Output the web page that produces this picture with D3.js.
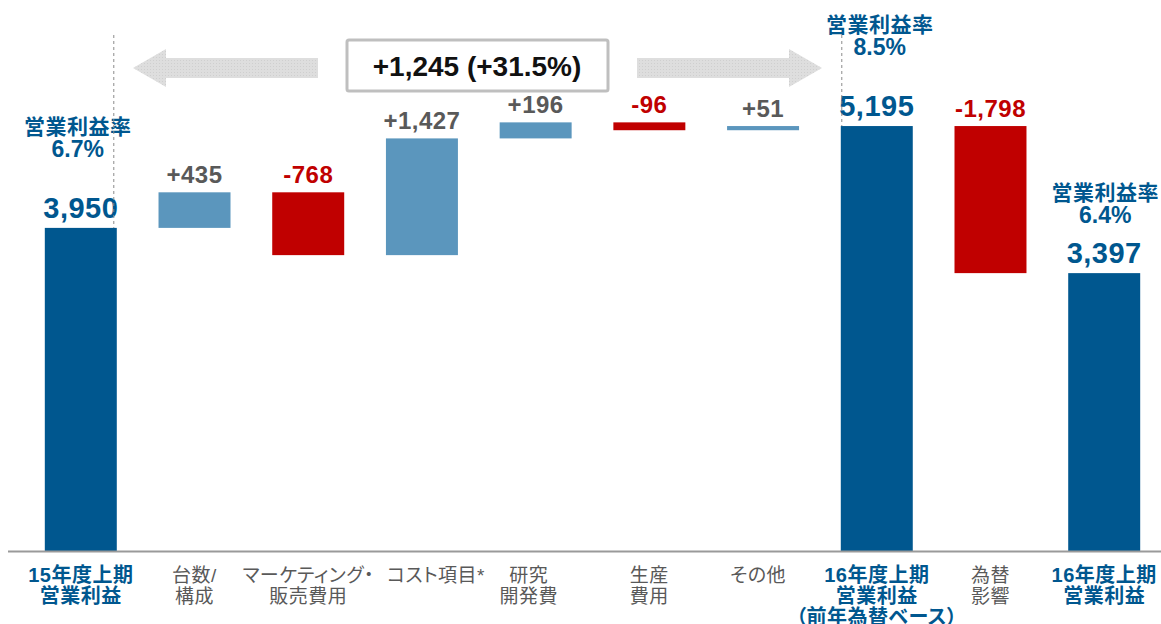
<!DOCTYPE html>
<html>
<head>
<meta charset="utf-8">
<script src="https://cdn.jsdelivr.net/npm/d3@7"></script>
<style>
  body { margin: 0; background: #fff; }
  svg text { font-family: "Liberation Sans", Arial, "Noto Sans CJK JP", sans-serif; }
  .cat { font-feature-settings: "palt"; }
</style>
</head>
<body>
<svg></svg>
<script>
const w = 1161
const h = 624

// data
const categories = [
  ['15年度上期', '営業利益'],
  ['台数/', '構成'],
  ['マーケティング・', '販売費用'],
  ['コスト項目*'],
  ['研究', '開発費'],
  ['生産', '費用'],
  ['その他'],
  ['16年度上期', '営業利益', '（前年為替ベース）'],
  ['為替', '影響'],
  ['16年度上期', '営業利益']
]
const values = [3950, 435, -768, 1427, 196, -96, 51, 5195, -1798, 3397]
const kinds = ['total', 'delta', 'delta', 'delta', 'delta', 'delta', 'delta', 'total', 'delta', 'total']
const valueLabels = ['3,950', '+435', '-768', '+1,427', '+196', '-96', '+51', '5,195', '-1,798', '3,397']
const marginIdx = [0, 7, 9]
const marginRates = ['6.7%', '8.5%', '6.4%']
const marginTitle = '営業利益率'
const totalChange = '+1,245 (+31.5%)'

const darkBlue = '#00578f'
const lightBlue = '#5b96bd'
const red = '#c00000'
const grey = '#595959'

const svg = d3.select('svg').attr('width', w).attr('height', h)

// waterfall start/end
let run = 0
const data = values.map((v, i) => {
  let y0, y1
  if (kinds[i] === 'total') { y0 = 0; y1 = v; run = v }
  else { y0 = run; y1 = run + v; run = y1 }
  return { i, v, y0, y1, kind: kinds[i], label: valueLabels[i], cat: categories[i] }
})

const baseline = 551
const xScale = d3.scaleBand()
  .domain(d3.range(categories.length))
  .range([24, 1161])
  .paddingInner(0.367)
  .paddingOuter(0.183)

const yScale = d3.scaleLinear()
  .domain([0, 6000])
  .range([baseline, baseline - 6000 * 0.0818])

const color = d => d.kind === 'total' ? darkBlue : (d.v >= 0 ? lightBlue : red)

// dotted arrow pattern
const defs = svg.append('defs')
const pat = defs.append('pattern')
  .attr('id', 'dots').attr('width', 3).attr('height', 3)
  .attr('patternUnits', 'userSpaceOnUse')
pat.append('rect').attr('width', 3).attr('height', 3).attr('fill', '#dedede')
pat.append('rect').attr('width', 1).attr('height', 1).attr('fill', '#cfcfcf')

// bars
svg.selectAll('rect.bar').data(data).enter().append('rect')
  .attr('class', 'bar')
  .attr('x', d => xScale(d.i))
  .attr('width', xScale.bandwidth())
  .attr('y', d => yScale(Math.max(d.y0, d.y1)))
  .attr('height', d => Math.abs(yScale(d.y0) - yScale(d.y1)))
  .attr('fill', color)

// baseline axis
const xAxis = d3.axisBottom(xScale).tickSize(0).tickFormat('')
const xAxisG = svg.append('g')
  .attr('transform', `translate(0, ${baseline})`)
  .call(xAxis)
xAxisG.select('.domain')
  .attr('d', `M8,0.5H${w}`)
  .attr('stroke', '#9a9a9a')
  .attr('stroke-width', 2)

// category labels (small nudges to match the original placement)
const labelDx = [0, 0, 0, 14, -7, 0, -5, 0, 0, 0]
xAxisG.selectAll('.tick').each(function (i) {
  const d = data[i]
  const t = d3.select(this).append('text')
    .attr('class', 'cat')
    .attr('text-anchor', 'middle')
    .attr('font-size', d.kind === 'total' ? 20 : 19)
    .attr('letter-spacing', 0.5)
    .attr('font-weight', d.kind === 'total' ? 'bold' : 'normal')
    .attr('fill', d.kind === 'total' ? darkBlue : grey)
  d.cat.forEach((line, k) => {
    t.append('tspan').attr('x', labelDx[i]).attr('y', 31 + k * 21).text(line)
  })
})

// value labels
svg.selectAll('text.val').data(data).enter().append('text')
  .attr('class', 'val')
  .attr('x', d => xScale(d.i) + xScale.bandwidth() / 2)
  .attr('y', d => yScale(Math.max(d.y0, d.y1)) - (d.kind === 'total' ? 10 : 9))
  .attr('text-anchor', 'middle')
  .attr('font-weight', 'bold')
  .attr('font-size', d => d.kind === 'total' ? 29 : 24)
  .attr('letter-spacing', 0.5)
  .attr('fill', d => d.kind === 'total' ? darkBlue : (d.v >= 0 ? grey : red))
  .text(d => d.label)

// margin labels above totals
const marginDx = [-3, 3, 1]
const marginDy = [0, 0, 21]
marginIdx.forEach((idx, k) => {
  const d = data[idx]
  const cx = xScale(idx) + xScale.bandwidth() / 2 + marginDx[k]
  const top = yScale(d.y1) + marginDy[k]
  const g = svg.append('g')
  g.append('text')
    .attr('x', cx).attr('y', top - 94)
    .attr('text-anchor', 'middle').attr('font-weight', 'bold')
    .attr('font-size', 21).attr('letter-spacing', 0.5)
    .attr('fill', darkBlue).text(marginTitle)
  g.append('text')
    .attr('x', cx).attr('y', top - 71)
    .attr('text-anchor', 'middle').attr('font-weight', 'bold')
    .attr('font-size', 23)
    .attr('fill', darkBlue).text(marginRates[k])
})

// dashed reference lines
const dashX = [xScale(0) + xScale.bandwidth() - 3, xScale(7) + 1]
;[0, 7].forEach((idx, k) => {
  svg.append('line')
    .attr('x1', dashX[k]).attr('x2', dashX[k])
    .attr('y1', 35).attr('y2', yScale(data[idx].y1))
    .attr('stroke', '#8c8c8c').attr('stroke-width', 1)
    .attr('stroke-dasharray', '3,3')
})

// arrows
const arrowY = 68
const arrow = (tail, tip) => {
  const dir = Math.sign(tip - tail)
  const neck = tip - dir * 33
  return `M${tail},${arrowY - 10}H${neck}V${arrowY - 19}L${tip},${arrowY}L${neck},${arrowY + 19}V${arrowY + 10}H${tail}Z`
}
svg.append('path').attr('d', arrow(318, 133)).attr('fill', 'url(#dots)')
svg.append('path').attr('d', arrow(637, 822)).attr('fill', 'url(#dots)')

// total change box
svg.append('rect')
  .attr('x', 347).attr('y', 40).attr('width', 261).attr('height', 51)
  .attr('rx', 2)
  .attr('fill', '#fff').attr('stroke', '#bfbfbf').attr('stroke-width', 3)
svg.append('text')
  .attr('x', 477).attr('y', 76)
  .attr('text-anchor', 'middle').attr('font-weight', 'bold')
  .attr('font-size', 28)
  .attr('fill', '#111').text(totalChange)
</script>
</body>
</html>
